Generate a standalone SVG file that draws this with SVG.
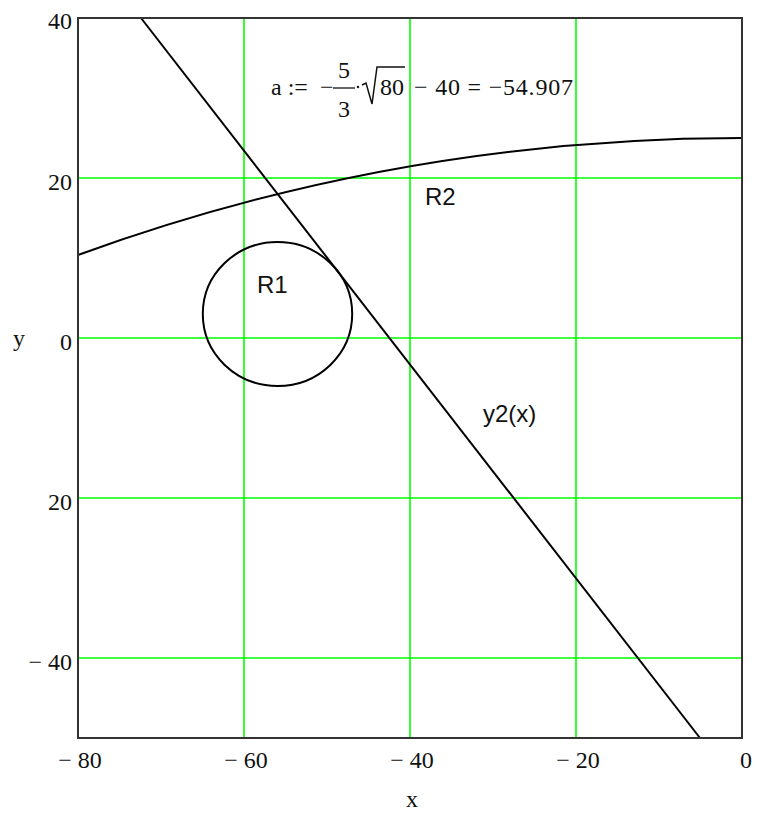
<svg xmlns="http://www.w3.org/2000/svg" width="759" height="816" viewBox="0 0 759 816">
<style>
.grid{stroke:#00ff00;stroke-width:1.6;fill:none}
.frame{stroke:#333;stroke-width:2;fill:none}
.curve{stroke:#000;stroke-width:2;fill:none}
.tick{font-family:"Liberation Serif","Times New Roman",serif;font-size:24px;fill:#111}
.lbl{font-family:"Liberation Sans",Arial,sans-serif;font-size:24px;fill:#111}
.math{font-family:"Liberation Serif","Times New Roman",serif;font-size:24px;fill:#111}
</style>
<rect width="759" height="816" fill="#fff"/>
<g id="grid">
<line class="grid" x1="244" y1="18" x2="244" y2="738"/>
<line class="grid" x1="410" y1="18" x2="410" y2="738"/>
<line class="grid" x1="576" y1="18" x2="576" y2="738"/>
<line class="grid" x1="78" y1="178" x2="742" y2="178"/>
<line class="grid" x1="78" y1="338" x2="742" y2="338"/>
<line class="grid" x1="78" y1="498" x2="742" y2="498"/>
<line class="grid" x1="78" y1="658" x2="742" y2="658"/>
</g>
<g id="formula">
<text class="math" x="271" y="95">a :=</text>
<text class="math" x="320" y="95">−</text>
<line x1="333" y1="88" x2="355" y2="88" stroke="#111" stroke-width="1.3"/>
<text class="math" x="344" y="78" text-anchor="middle">5</text>
<text class="math" x="344" y="117" text-anchor="middle">3</text>
<circle cx="358" cy="87" r="1.2" fill="#111"/>
<path d="M362 85 L366 83 L372 104 L377 67 L405 67" stroke="#111" stroke-width="1.5" fill="none"/>
<text class="math" x="380" y="95">80</text>
<text class="math" x="414" y="95" textLength="159" xml:space="preserve">− 40 = −54.907</text>
</g>
<g id="connectors">
<path id="R2" class="curve" d="M78 255 C290.2 177.6 515.2 138 742 138"/>
<ellipse id="R1" class="curve" cx="277.5" cy="314" rx="74.7" ry="72"/>
<line id="y2" class="curve" x1="141" y1="18" x2="700" y2="738"/>
</g>
<g id="frame"><rect class="frame" x="78" y="18" width="664" height="720"/></g>
<g id="labels">
<text class="lbl" x="257" y="293">R1</text>
<text class="lbl" x="425" y="205">R2</text>
<text class="lbl" x="483" y="422">y2(x)</text>
</g>
<g id="yticks">
<text class="tick" x="72" y="29" text-anchor="end">40</text>
<text class="tick" x="72" y="190" text-anchor="end">20</text>
<text class="tick" x="72" y="350" text-anchor="end">0</text>
<text class="tick" x="72" y="510" text-anchor="end">20</text>
<text class="tick" x="72" y="670" text-anchor="end">− 40</text>
<text class="tick" x="19" y="346" text-anchor="middle">y</text>
</g>
<g id="xticks">
<text class="tick" x="80" y="768" text-anchor="middle">− 80</text>
<text class="tick" x="246" y="768" text-anchor="middle">− 60</text>
<text class="tick" x="412" y="768" text-anchor="middle">− 40</text>
<text class="tick" x="578" y="768" text-anchor="middle">− 20</text>
<text class="tick" x="746" y="768" text-anchor="middle">0</text>
<text class="tick" x="412" y="807" text-anchor="middle">x</text>
</g>
</svg>
